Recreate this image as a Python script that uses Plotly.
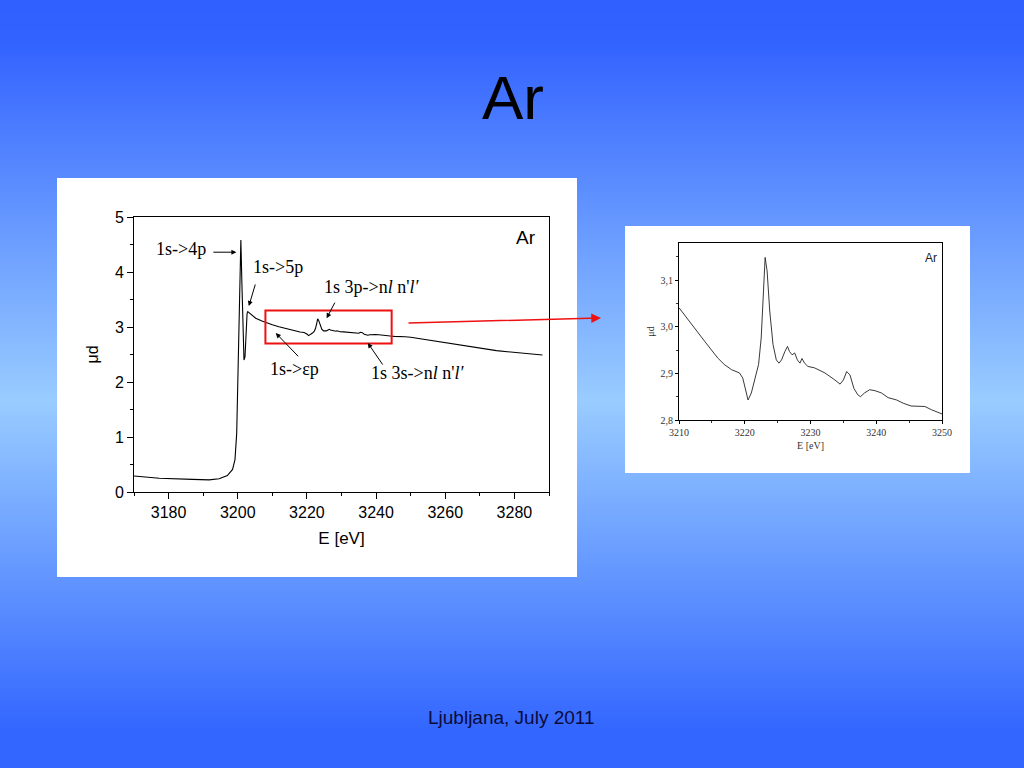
import base64
import struct
import zlib

import plotly.graph_objects as go

# ---------------- data ----------------
# Ar K-edge absorption, main panel: pre-edge, edge and first resonances
E_EDGE = [3170.0, 3177.3, 3186.9, 3191.7, 3194.6, 3197.0, 3198.5, 3199.2, 3199.7,
          3200.1, 3200.5, 3200.9, 3201.2, 3201.5, 3201.8, 3202.1, 3202.4, 3202.7,
          3202.9, 3205.2, 3207.0, 3208.5]
MU_EDGE = [0.29, 0.25, 0.23, 0.22, 0.24, 0.30, 0.41, 0.59, 1.07,
           2.28, 3.79, 4.58, 3.79, 2.77, 2.40, 2.46, 2.89, 3.25,
           3.28, 3.16, 3.11, 3.07]

# Zoomed region 3210-3250 eV (multielectron excitations)
E_XANES = [3210.0, 3211.9, 3213.9, 3215.9, 3216.9, 3218.0, 3219.2, 3219.7, 3220.1,
           3220.5, 3221.0, 3221.6, 3222.1, 3222.5, 3222.9, 3223.1, 3223.4, 3223.8,
           3224.3, 3224.8, 3225.2, 3225.6, 3226.1, 3226.5, 3226.8, 3227.2, 3227.6,
           3228.0, 3228.4, 3228.7, 3229.1, 3229.6, 3230.6, 3232.2, 3233.7, 3234.5,
           3235.0, 3235.5, 3236.0, 3236.6, 3237.2, 3237.6, 3238.2, 3239.0, 3239.8,
           3240.8, 3241.8, 3243.1, 3244.1, 3245.3, 3247.4, 3248.4, 3250.0]
MU_XANES = [3.041, 3.005, 2.969, 2.933, 2.919, 2.908, 2.901, 2.890, 2.868,
            2.843, 2.858, 2.890, 2.919, 2.976, 3.084, 3.149, 3.120, 3.034,
            2.962, 2.929, 2.922, 2.929, 2.947, 2.958, 2.947, 2.940, 2.944,
            2.929, 2.922, 2.932, 2.922, 2.915, 2.912, 2.901, 2.886, 2.877,
            2.886, 2.904, 2.897, 2.868, 2.854, 2.850, 2.858, 2.865, 2.863,
            2.858, 2.848, 2.843, 2.836, 2.830, 2.829, 2.822, 2.813]

# High-energy tail of the main panel
E_TAIL = [3255.5, 3265.1, 3274.8, 3288.1]
MU_TAIL = [2.76, 2.66, 2.57, 2.49]

E_MAIN = E_EDGE + E_XANES + E_TAIL
MU_MAIN = MU_EDGE + MU_XANES + MU_TAIL

TITLE = "Ar"
FOOTER = "Ljubljana, July 2011"

# ---------------- slide background (gradient image) ----------------
BG_STOP_Y = [0, 40, 400, 730, 768]
BG_STOP_RGB = [(48, 96, 255), (50, 98, 255), (153, 204, 255), (51, 102, 255), (51, 102, 255)]


def gradient_rows(height):
    rows = []
    for y in range(height):
        for i in range(len(BG_STOP_Y) - 1):
            if BG_STOP_Y[i] <= y <= BG_STOP_Y[i + 1]:
                t = (y - BG_STOP_Y[i]) / (BG_STOP_Y[i + 1] - BG_STOP_Y[i])
                c0, c1 = BG_STOP_RGB[i], BG_STOP_RGB[i + 1]
                rows.append(tuple(int(round(a + (b - a) * t)) for a, b in zip(c0, c1)))
                break
    return rows


def png_data_uri(rows, width=4):
    raw = b"".join(b"\x00" + bytes(c) * width for c in rows)

    def chunk(tag, data):
        return (struct.pack(">I", len(data)) + tag + data
                + struct.pack(">I", zlib.crc32(tag + data) & 0xFFFFFFFF))

    png = (b"\x89PNG\r\n\x1a\n"
           + chunk(b"IHDR", struct.pack(">IIBBBBB", width, len(rows), 8, 2, 0, 0, 0))
           + chunk(b"IDAT", zlib.compress(raw))
           + chunk(b"IEND", b""))
    return "data:image/png;base64," + base64.b64encode(png).decode()


W, H = 1024, 768


def px(x):
    return x / W


def py(y):
    return 1 - y / H


SANS = "Liberation Sans, Arial, sans-serif"
SERIF = "Liberation Serif, Times New Roman, serif"

fig = go.Figure()
fig.add_trace(go.Scatter(x=E_MAIN, y=MU_MAIN, mode="lines",
                         line=dict(color="black", width=1.1),
                         xaxis="x", yaxis="y", showlegend=False, hoverinfo="skip"))
fig.add_trace(go.Scatter(x=E_XANES, y=MU_XANES, mode="lines",
                         line=dict(color="#222222", width=0.9),
                         xaxis="x2", yaxis="y2", showlegend=False, hoverinfo="skip"))

axis_common = dict(showline=True, linecolor="black", linewidth=1, mirror=True,
                   ticks="outside", tickcolor="black", showgrid=False, zeroline=False,
                   automargin=False)

fig.update_layout(
    width=W, height=H, margin=dict(l=0, r=0, t=0, b=0, pad=0, autoexpand=False),
    paper_bgcolor="#6f9fff", plot_bgcolor="rgba(0,0,0,0)",
    separators=",.",
    xaxis=dict(domain=[px(134), px(549)], range=[3170, 3290], dtick=20, tick0=3180,
               ticklen=6, minor=dict(ticks="outside", ticklen=3, dtick=10, tickcolor="black"),
               tickfont=dict(family=SANS, size=16, color="black"),
               title=dict(text="E [eV]", font=dict(family=SANS, size=17, color="black"), standoff=11),
               anchor="y", **axis_common),
    yaxis=dict(domain=[py(492), py(217)], range=[0, 5], dtick=1,
               ticklen=6, minor=dict(ticks="outside", ticklen=3, dtick=0.5, tickcolor="black"),
               tickfont=dict(family=SANS, size=16, color="black"),
               title=dict(text="μd", font=dict(family=SANS, size=16, color="black"), standoff=12),
               anchor="x", **axis_common),
    xaxis2=dict(domain=[px(679), px(942)], range=[3210, 3250], dtick=10, tick0=3210,
                ticklen=3, minor=dict(ticks="outside", ticklen=2, dtick=5, tickcolor="#333"),
                tickfont=dict(family=SERIF, size=10, color="#333"),
                title=dict(text="E [eV]", font=dict(family=SERIF, size=10, color="#333"), standoff=4),
                anchor="y2", **axis_common),
    yaxis2=dict(domain=[py(420), py(243)], range=[2.8, 3.18], dtick=0.1, tick0=2.8,
                tickformat=".1f",
                ticklen=3, minor=dict(ticks="outside", ticklen=2, dtick=0.05, tickcolor="#333"),
                tickfont=dict(family=SERIF, size=10, color="#333"),
                title=dict(text="μd", font=dict(family=SERIF, size=10, color="#333"), standoff=4),
                anchor="x2", **axis_common),
)

fig.add_layout_image(dict(source=png_data_uri(gradient_rows(H)), xref="paper", yref="paper",
                          x=0, y=1, sizex=1, sizey=1, sizing="stretch",
                          xanchor="left", yanchor="top", layer="below"))

# white panels
fig.add_shape(type="rect", xref="paper", yref="paper", x0=px(57), x1=px(577), y0=py(577), y1=py(178),
              fillcolor="white", line=dict(width=0), layer="below")
fig.add_shape(type="rect", xref="paper", yref="paper", x0=px(625), x1=px(970), y0=py(473), y1=py(226),
              fillcolor="white", line=dict(width=0), layer="below")
# zoom region marker
fig.add_shape(type="rect", xref="x", yref="y", x0=3208, x1=3244.5, y0=2.7, y1=3.3,
              line=dict(color="#ee1111", width=2), fillcolor="rgba(0,0,0,0)")

ann = []


def text_ann(text, x, y, font, xref="paper", yref="paper"):
    return dict(text=text, xref=xref, yref=yref, x=x, y=y, showarrow=False,
                xanchor="center", yanchor="middle", font=font)


ann.append(text_ann(TITLE, px(513), py(97), dict(family=SANS, size=62, color="black")))
ann.append(text_ann(FOOTER, px(511), py(717), dict(family=SANS, size=19, color="#0b0b3b")))
ann.append(text_ann("Ar", px(526), py(238), dict(family=SANS, size=19, color="black")))
ann.append(text_ann("Ar", px(931), py(258), dict(family=SANS, size=12, color="#222")))

LABELS = [
    ("1s-&gt;4p", 3183.6, 4.42),
    ("1s-&gt;5p", 3211.6, 4.09),
    ("1s 3p-&gt;n<i>l</i> n'<i>l′</i>", 3238.7, 3.73),
    ("1s-&gt;εp", 3216.5, 2.24),
    ("1s 3s-&gt;n<i>l</i> n'<i>l′</i>", 3252.0, 2.16),
]
for t, x, y in LABELS:
    ann.append(text_ann(t, x, y, dict(family=SERIF, size=18, color="black"), xref="x", yref="y"))

ARROWS = [  # (tip_x, tip_y, tail_x, tail_y)
    (3199.6, 4.36, 3192.5, 4.36),
    (3203.2, 3.38, 3205.2, 3.80),
    (3225.7, 3.16, 3228.3, 3.47),
    (3211.0, 2.89, 3217.9, 2.44),
    (3237.6, 2.71, 3242.2, 2.29),
]
for tx, ty, sx, sy in ARROWS:
    ann.append(dict(text="", xref="x", yref="y", x=tx, y=ty, axref="x", ayref="y", ax=sx, ay=sy,
                    showarrow=True, arrowhead=2, arrowsize=1, arrowwidth=1, arrowcolor="black"))

ann.append(dict(text="", xref="paper", yref="paper", x=px(601), y=py(318), ax=-194, ay=5,
                showarrow=True, arrowhead=2, arrowsize=1.3, arrowwidth=1.5, arrowcolor="#ee1111"))

fig.update_layout(annotations=ann)

fig.write_html("out.html",
               config={"displayModeBar": False},
               post_script="document.body.style.margin='0';document.body.style.overflow='hidden';")
